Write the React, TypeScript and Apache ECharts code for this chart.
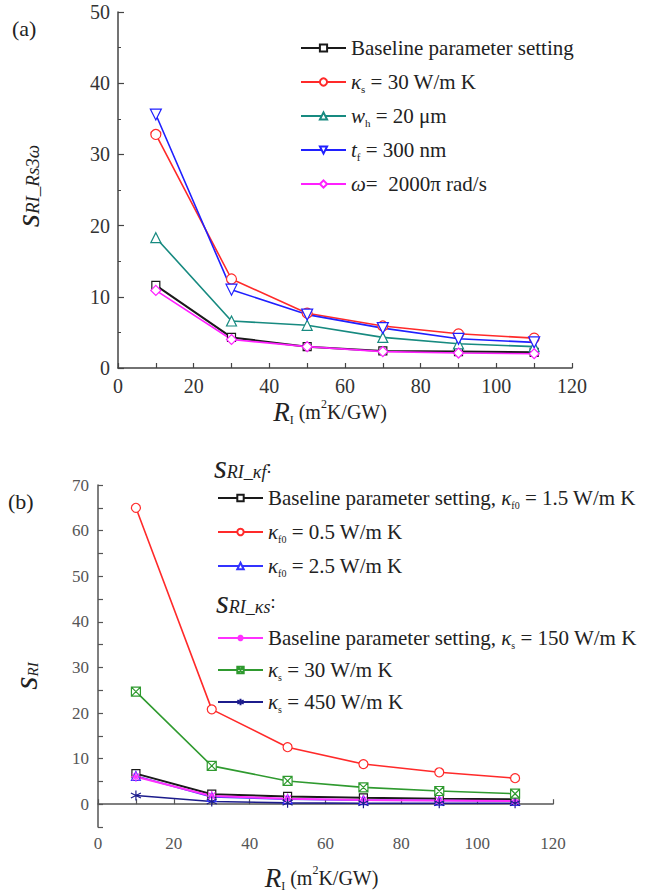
import React, { useEffect, useRef } from "react";
import * as echarts from "echarts";

const xValues = [10, 30, 50, 70, 90, 110];

// Panel (a)
const aBaseline = [11.6, 4.3, 3.0, 2.4, 2.3, 2.2];
const aKs30 = [32.8, 12.5, 7.7, 5.9, 4.8, 4.2];
const aWh20 = [18.3, 6.6, 6.0, 4.3, 3.4, 3.0];
const aTf300 = [35.6, 11.0, 7.5, 5.6, 4.1, 3.6];
const aOmega = [10.9, 4.0, 3.0, 2.3, 2.1, 2.0];

// Panel (b)
const bBaseKf = [6.7, 2.2, 1.7, 1.4, 1.2, 1.1];
const bKf05 = [65.0, 20.8, 12.5, 8.8, 7.0, 5.7];
const bKf25 = [6.2, 1.6, 1.1, 0.9, 0.8, 0.7];
const bBaseKs = [6.0, 1.8, 1.2, 0.9, 0.8, 0.7];
const bKs30 = [24.7, 8.4, 5.1, 3.7, 2.9, 2.3];
const bKs450 = [1.9, 0.6, 0.3, 0.2, 0.2, 0.2];

const FONT = "'Liberation Serif', 'Times New Roman', serif";

const legendLabels: Record<string, string> = {
  a_base: "Baseline parameter setting",
  a_ks: "{i|κ}{sub|s} = 30 W/m K",
  a_wh: "{i|w}{sub|h} = 20 μm",
  a_tf: "{i|t}{sub|f} = 300 nm",
  a_om: "{i|ω}=  2000π rad/s",
  b_basekf: "Baseline parameter setting, {i|κ}{sub|f0} = 1.5 W/m K",
  b_kf05: "{i|κ}{sub|f0} = 0.5 W/m K",
  b_kf25: "{i|κ}{sub|f0} = 2.5 W/m K",
  b_baseks: "Baseline parameter setting, {i|κ}{sub|s} = 150 W/m K",
  b_ks30: "{i|κ}{sub|s} = 30 W/m K",
  b_ks450: "{i|κ}{sub|s} = 450 W/m K",
};

const SYM_DOWN = "path://M0,0L10,0L5,9Z";
const SYM_BOXX = "path://M0,0H10V10H0Z M0,0L10,10 M10,0L0,10";
const SYM_AST6 = "path://M5,0V10 M0.7,2.5L9.3,7.5 M9.3,2.5L0.7,7.5";
const SYM_AST8 = "path://M5,0V10 M0,5H10 M1.5,1.5L8.5,8.5 M8.5,1.5L1.5,8.5";

function mk(
  name: string,
  vals: number[],
  color: string,
  symbol: string,
  size: number,
  gi: number,
  width = 1.6
) {
  return {
    type: "line",
    name,
    xAxisIndex: gi,
    yAxisIndex: gi,
    data: xValues.map((x, i) => [x, vals[i]]),
    symbol,
    symbolSize: size,
    showAllSymbol: true,
    lineStyle: { color, width },
    itemStyle: { color: "#fff", borderColor: color, borderWidth: 1.2 },
    emphasis: { disabled: true },
    z: 3,
  };
}

const richLegendA = {
  i: { fontFamily: FONT, fontSize: 21, fontStyle: "italic", lineHeight: 24, color: "#222" },
  sub: { fontFamily: FONT, fontSize: 11, lineHeight: 10, verticalAlign: "bottom", color: "#222" },
};
const richLegendB = {
  i: { fontFamily: FONT, fontSize: 21, fontStyle: "italic", lineHeight: 24, color: "#222" },
  sub: { fontFamily: FONT, fontSize: 10, lineHeight: 9, verticalAlign: "bottom", color: "#222" },
};

const nameRichX = {
  r: { fontFamily: FONT, fontSize: 27, fontStyle: "italic", lineHeight: 28, color: "#222" },
  sub: { fontFamily: FONT, fontSize: 12, lineHeight: 9, verticalAlign: "bottom", color: "#222" },
  t: { fontFamily: FONT, fontSize: 20, lineHeight: 28, color: "#222" },
  sup: { fontFamily: FONT, fontSize: 12, lineHeight: 18, verticalAlign: "top", color: "#222" },
};

const headerRich = {
  s: { fontFamily: FONT, fontSize: 33, fontStyle: "italic", lineHeight: 28, fill: "#222" },
  sub: { fontFamily: FONT, fontSize: 18, fontStyle: "italic", lineHeight: 13, verticalAlign: "bottom", fill: "#222" },
  c: { fontFamily: FONT, fontSize: 18, lineHeight: 28, fill: "#222" },
};

export default function App() {
  const ref = useRef<HTMLDivElement>(null);
  useEffect(() => {
    if (!ref.current) return;
    const chart = echarts.init(ref.current, undefined, { renderer: "svg" });
    const axisLine = { lineStyle: { color: "#444", width: 1.5 } };
    const option: any = {
      animation: false,
      backgroundColor: "#fff",
      textStyle: { fontFamily: FONT },
      grid: [
        { left: 118, top: 12, width: 454, height: 356 },
        { left: 95, top: 485, width: 458, height: 346 },
      ],
      xAxis: [
        {
          gridIndex: 0,
          type: "value",
          min: 0,
          max: 120,
          interval: 10,
          axisLine,
          axisTick: { show: true, inside: true, length: 5, lineStyle: { color: "#444", width: 1.2 } },
          axisLabel: {
            formatter: (v: number) => (v % 20 === 0 ? String(v) : ""),
            fontFamily: FONT,
            fontSize: 20,
            color: "#333",
            margin: 8,
          },
          splitLine: { show: false },
          name: "{r|R}{sub|I}{t| (m}{sup|2}{t|K/GW)}",
          nameLocation: "middle",
          nameGap: 30,
          nameTextStyle: { fontFamily: FONT, padding: [0, 30, 0, 0], rich: nameRichX },
        },
        {
          gridIndex: 1,
          type: "value",
          min: 0,
          max: 120,
          interval: 10,
          axisLine: { lineStyle: { color: "#555", width: 1.5 } },
          axisTick: { show: true, inside: true, length: 5, lineStyle: { color: "#555", width: 1.2 } },
          axisLabel: {
            formatter: (v: number) => (v % 20 === 0 ? String(v) : ""),
            fontFamily: FONT,
            fontSize: 17,
            color: "#555",
            margin: 8,
          },
          splitLine: { show: false },
          name: "{r|R}{sub|I}{t| (m}{sup|2}{t|K/GW)}",
          nameLocation: "middle",
          nameGap: 37,
          nameTextStyle: { fontFamily: FONT, padding: [0, 8, 0, 0], rich: nameRichX },
        },
      ],
      yAxis: [
        {
          gridIndex: 0,
          type: "value",
          min: 0,
          max: 50,
          interval: 10,
          axisLine: { show: true, ...axisLine },
          axisTick: { show: true, inside: true, length: 6, lineStyle: { color: "#444", width: 1.2 } },
          minorTick: { show: true, splitNumber: 2, length: 3, lineStyle: { color: "#444", width: 1 } },
          axisLabel: { fontFamily: FONT, fontSize: 20, color: "#333", margin: 8 },
          splitLine: { show: false },
          name: "{s|s}{sub|RI_Rs3ω}",
          nameLocation: "middle",
          nameRotate: 90,
          nameGap: 76,
          nameTextStyle: {
            fontFamily: FONT,
            padding: [0, 0, 0, 8],
            rich: {
              s: { fontFamily: FONT, fontSize: 34, fontStyle: "italic", lineHeight: 30, color: "#222" },
              sub: { fontFamily: FONT, fontSize: 19, fontStyle: "italic", lineHeight: 14, verticalAlign: "bottom", color: "#222" },
            },
          },
        },
        {
          gridIndex: 1,
          type: "value",
          min: -5,
          max: 70,
          interval: 5,
          axisLine: { show: true, lineStyle: { color: "#555", width: 1.5 } },
          axisTick: { show: true, inside: true, length: 5, lineStyle: { color: "#555", width: 1.2 } },
          axisLabel: {
            formatter: (v: number) => (v % 10 === 0 ? String(v) : ""),
            fontFamily: FONT,
            fontSize: 17,
            color: "#555",
            margin: 9,
          },
          splitLine: { show: false },
          name: "{s|s}{sub|RI}",
          nameLocation: "middle",
          nameRotate: 90,
          nameGap: 58,
          nameTextStyle: {
            fontFamily: FONT,
            padding: [0, 40, 0, 0],
            rich: {
              s: { fontFamily: FONT, fontSize: 34, fontStyle: "italic", lineHeight: 30, color: "#222" },
              sub: { fontFamily: FONT, fontSize: 15, fontStyle: "italic", lineHeight: 13, verticalAlign: "bottom", color: "#222" },
            },
          },
        },
      ],
      legend: [
        {
          orient: "vertical",
          left: 295,
          top: 31,
          itemWidth: 45,
          itemHeight: 9,
          itemGap: 10,
          selectedMode: false,
          data: ["a_base", "a_ks", "a_wh", "a_tf", "a_om"],
          formatter: (n: string) => legendLabels[n],
          textStyle: { fontFamily: FONT, fontSize: 21, lineHeight: 24, color: "#222", rich: richLegendA },
        },
        {
          orient: "vertical",
          left: 212,
          top: 481,
          itemWidth: 45,
          itemHeight: 8,
          itemGap: 10,
          selectedMode: false,
          data: ["b_basekf", "b_kf05", "b_kf25"],
          formatter: (n: string) => legendLabels[n],
          textStyle: { fontFamily: FONT, fontSize: 21, lineHeight: 24, color: "#222", rich: richLegendB },
        },
        {
          orient: "vertical",
          left: 212,
          top: 621,
          itemWidth: 45,
          itemHeight: 8,
          itemGap: 8,
          selectedMode: false,
          data: ["b_baseks", "b_ks30", "b_ks450"],
          formatter: (n: string) => legendLabels[n],
          textStyle: { fontFamily: FONT, fontSize: 21, lineHeight: 24, color: "#222", rich: richLegendB },
        },
      ],
      graphic: [
        {
          type: "text",
          left: 12,
          top: 17,
          style: { text: "(a)", font: "22px 'Liberation Serif', serif", fill: "#222" },
        },
        {
          type: "text",
          left: 8,
          top: 490,
          style: { text: "(b)", font: "22px 'Liberation Serif', serif", fill: "#222" },
        },
        {
          type: "text",
          left: 214,
          top: 450,
          style: { text: "{s|s}{sub|RI_κf}{c|:}", rich: headerRich },
        },
        {
          type: "text",
          left: 216,
          top: 585,
          style: { text: "{s|s}{sub|RI_κs}{c|:}", rich: headerRich },
        },
      ],
      series: [
        mk("a_base", aBaseline, "#1a1a1a", "rect", 8, 0, 2),
        mk("a_ks", aKs30, "#ff2a2a", "circle", 10, 0),
        mk("a_wh", aWh20, "#178a80", "triangle", 10, 0),
        mk("a_tf", aTf300, "#2020ff", SYM_DOWN, 11, 0),
        mk("a_om", aOmega, "#ff20ff", "diamond", 10, 0),
        mk("b_basekf", bBaseKf, "#1a1a1a", "rect", 8, 1, 2),
        mk("b_kf05", bKf05, "#ff2a2a", "circle", 9, 1),
        mk("b_kf25", bKf25, "#3333ff", "triangle", 9, 1),
        mk("b_baseks", bBaseKs, "#ff30ff", SYM_AST8, 10, 1, 2),
        mk("b_ks30", bKs30, "#2f9a2f", SYM_BOXX, 9, 1),
        mk("b_ks450", bKs450, "#1c1c8c", SYM_AST6, 10, 1),
      ],
    };
    chart.setOption(option);
    return () => chart.dispose();
  }, []);
  return (
    <div
      ref={ref}
      style={{ position: "fixed", left: 0, top: 0, width: 659, height: 893, background: "#fff" }}
    />
  );
}
